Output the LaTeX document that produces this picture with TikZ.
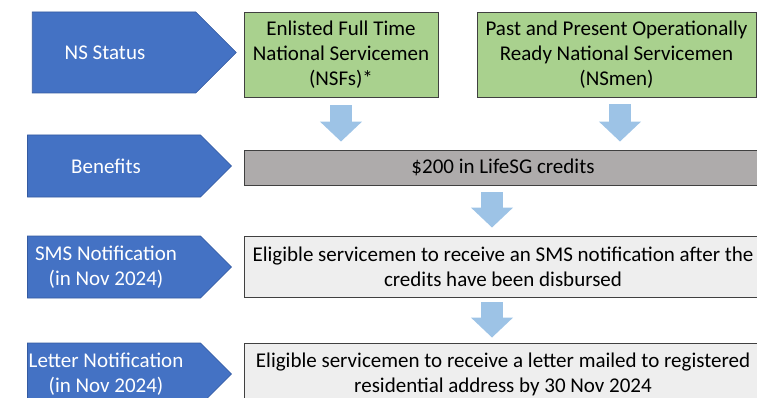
\documentclass[tikz,border=0pt]{standalone}
\usepackage{fontspec}
\setmainfont{Carlito}
\usepackage{tikz}
\usetikzlibrary{shapes.symbols, arrows.meta}

\definecolor{chevblue}{RGB}{68,114,196}
\definecolor{chevedge}{RGB}{52,90,160}
\definecolor{nsgreen}{RGB}{169,209,142}
\definecolor{creditgray}{RGB}{174,171,171}
\definecolor{notegray}{RGB}{238,238,238}
\definecolor{downblue}{RGB}{157,195,230}
\definecolor{edgegray}{RGB}{64,64,64}

\begin{document}
\begin{tikzpicture}[x=1pt, y=1pt,
    chev/.style={shape=signal, signal to=east, signal pointer angle=90, fill=chevblue, draw=chevedge, line width=.6pt, minimum width=204pt, inner sep=0pt},
    chevtext/.style={text=white, inner sep=0pt, align=center, font=\fontsize{21}{25}\selectfont},
    box/.style={draw=edgegray, line width=.9pt, inner sep=0pt, align=center, font=\fontsize{21}{25}\selectfont},
    down/.style={draw=downblue, line width=22pt, -{Triangle[length=20pt, width=41pt]}}]
    \useasboundingbox (0,0) rectangle (757,-398);

    \node[chev, minimum height=81pt] (status) at (114,-52.5) {};
    \node[chev, minimum height=62pt] (benefits) at (114,-166) {};
    \node[chev, minimum height=62pt] (sms) at (114,-267) {};
    \node[chev, minimum height=62pt] (letter) at (114,-374) {};
    \node[chevtext] (statustext) at ([xshift=-9pt]status.center) {NS Status};
    \node[chevtext] (benefitstext) at ([xshift=-8pt]benefits.center) {Benefits};
    \node[chevtext] (smstext) at ([xshift=-8pt]sms.center) {SMS Notification\\(in Nov 2024)};
    \node[chevtext] (lettertext) at ([xshift=-8pt]letter.center) {Letter Notification\\(in Nov 2024)};

    \node[box, fill=nsgreen, minimum width=194pt, minimum height=85pt] (nsf) at (341,-54.5) {Enlisted Full Time\\National Servicemen\\(NSFs)*};
    \node[box, fill=nsgreen, minimum width=279pt, minimum height=85pt] (nsmen) at (616.5,-54.5) {Past and Present Operationally\\Ready National Servicemen\\(NSmen)};
    \node[box, fill=creditgray, minimum width=518pt, minimum height=35pt] (credits) at (503,-167.5) {\$200 in LifeSG credits};
    \node[box, fill=notegray, minimum width=518pt, minimum height=61pt] (smsnote) at (503,-266.5) {Eligible servicemen to receive an SMS notification after the\\credits have been disbursed};
    \node[box, fill=notegray, minimum width=518pt, minimum height=63pt] (letternote) at (503,-374.5) {Eligible servicemen to receive a letter mailed to registered\\residential address by 30 Nov 2024};

    \draw[down, shorten <=8pt, shorten >=8pt] (nsf.south) -- (nsf.south |- credits.north);
    \draw[down, shorten <=7pt, shorten >=8pt] ([xshift=3.5pt]nsmen.south) -- ([xshift=3.5pt]nsmen.south |- credits.north);
    \draw[down, shorten <=7pt, shorten >=8pt] ([xshift=-11pt]credits.south) -- ([xshift=-11pt]credits.south |- smsnote.north);
    \draw[down, shorten <=5pt, shorten >=5pt] ([xshift=-11pt]smsnote.south) -- ([xshift=-11pt]smsnote.south |- letternote.north);
\end{tikzpicture}
\end{document}
